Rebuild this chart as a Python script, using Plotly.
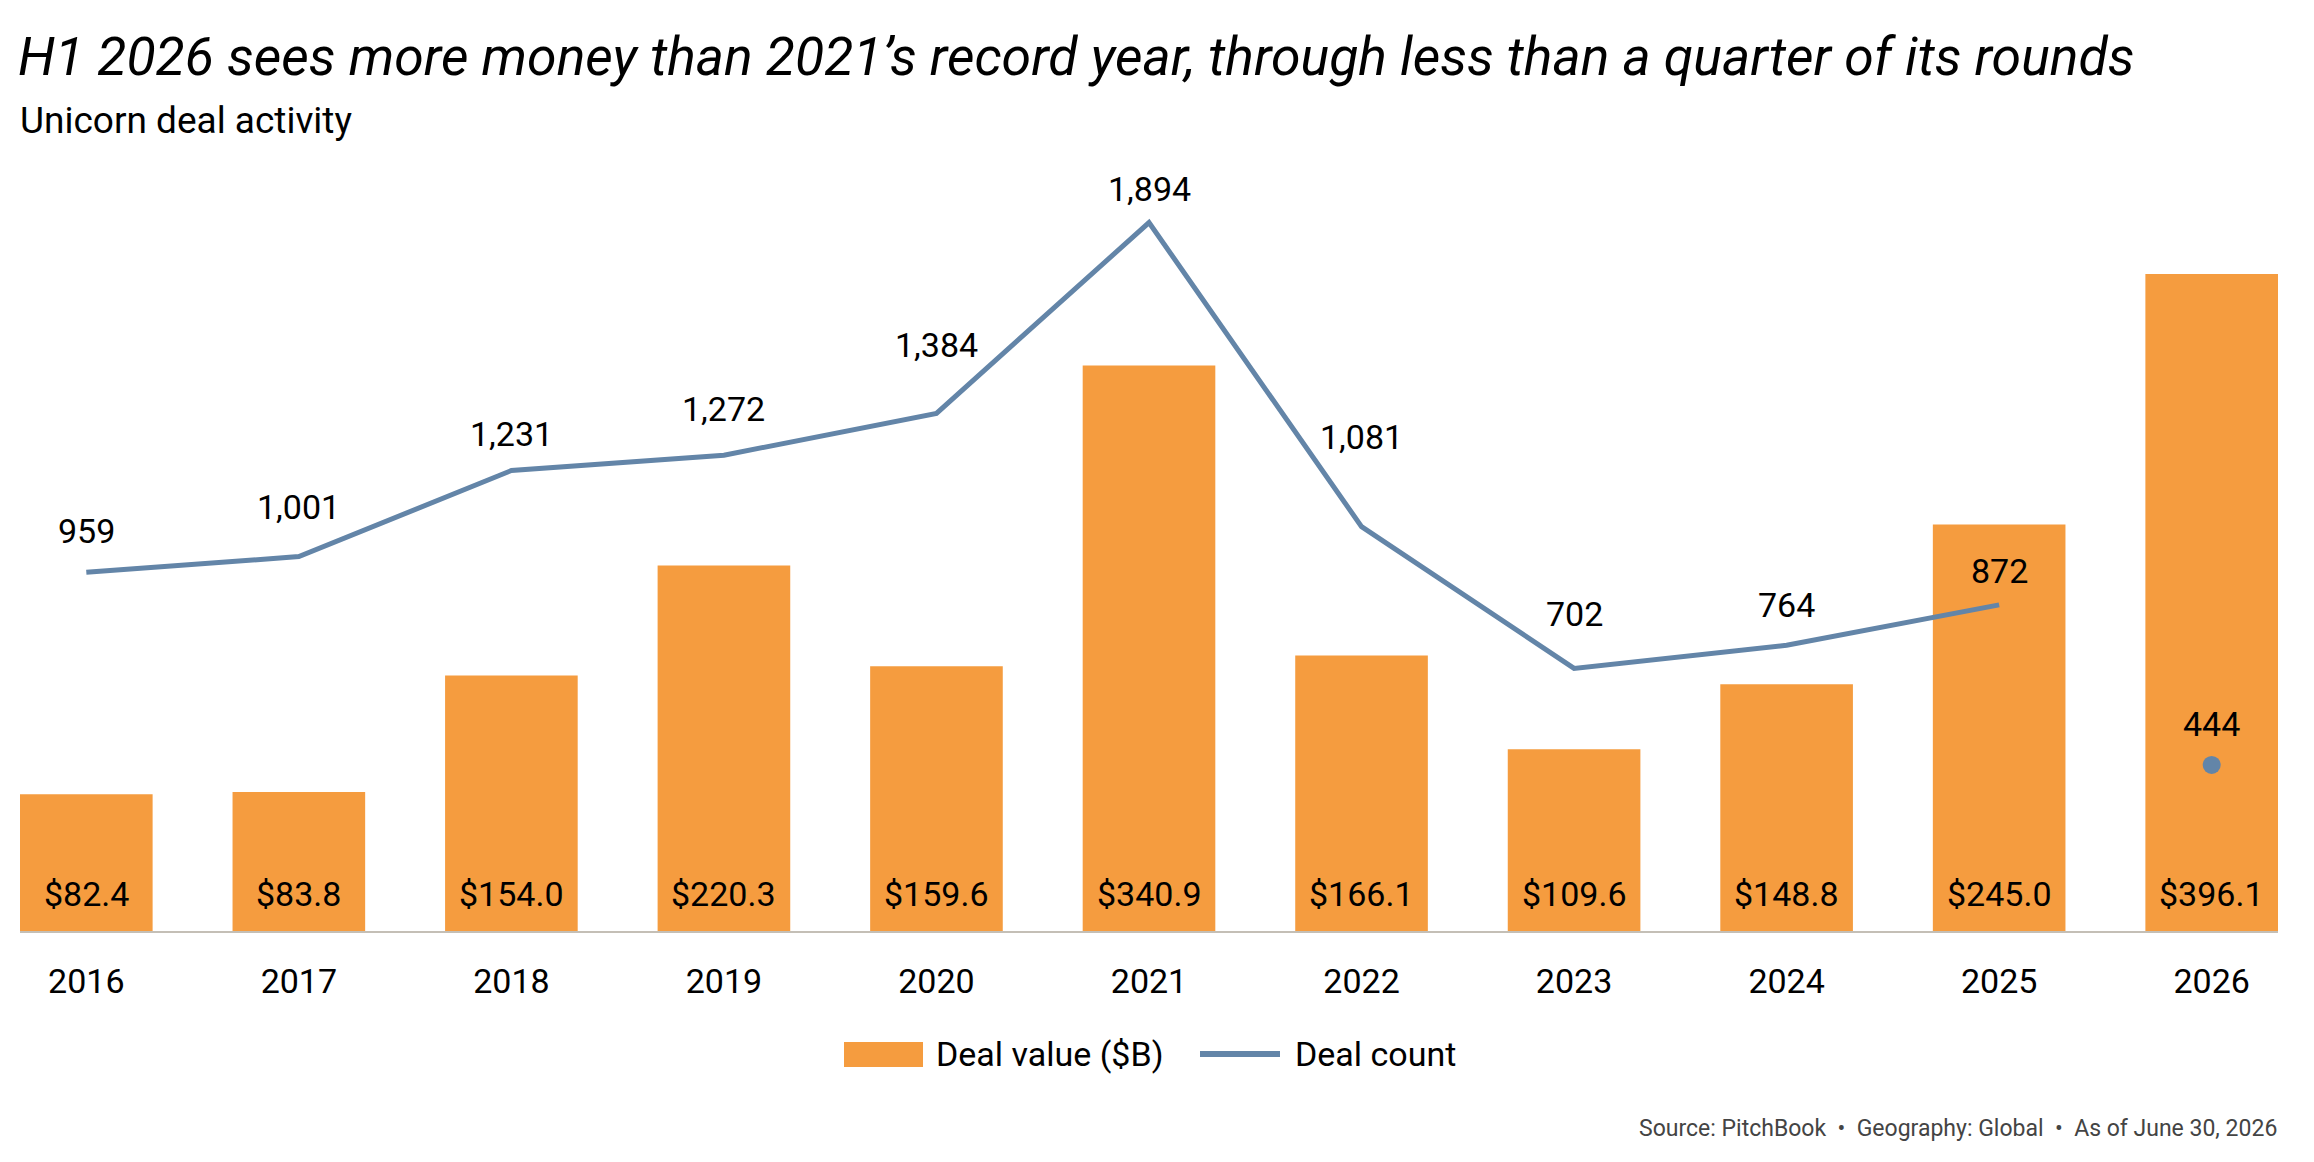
import plotly.graph_objects as go

# data
years = [2016, 2017, 2018, 2019, 2020, 2021, 2022, 2023, 2024, 2025, 2026]
deal_value = [82.4, 83.8, 154.0, 220.3, 159.6, 340.9, 166.1, 109.6, 148.8, 245.0, 396.1]
deal_count = [959, 1001, 1231, 1272, 1384, 1894, 1081, 702, 764, 872, 444]
year_labels = [str(y) for y in years]

# vertical offset (px) of each count label above its point, as placed in the original
count_label_shift = [41, 50, 37, 46, 68, 34, 90, 54, 40, 34, 41]

ORANGE = "#F59C3F"
BLUE = "#6385A8"
FONT = "Roboto"

W, H = 2314, 1162
L, R, T, B = 20, 36, 150, 231
PW, PH = W - L - R, H - T - B


def px_x(px):
    # pixel -> paper x
    return (px - L) / PW


def px_y(py):
    # pixel -> paper y
    return (H - B - py) / PH


fig = go.Figure()

fig.add_trace(go.Bar(
    x=years, y=deal_value, marker_color=ORANGE, marker_line_width=0,
    name="Deal value ($B)", showlegend=False, yaxis="y",
))
# full-year count line (2016-2025), H1 2026 as a lone point
fig.add_trace(go.Scatter(
    x=years[:-1], y=deal_count[:-1], mode="lines",
    line=dict(color=BLUE, width=5), name="Deal count",
    showlegend=False, yaxis="y2",
))
fig.add_trace(go.Scatter(
    x=years[-1:], y=deal_count[-1:], mode="markers",
    marker=dict(color=BLUE, size=18), showlegend=False, yaxis="y2",
))

anns = []
for yr, v in zip(years, deal_value):
    anns.append(dict(x=yr, y=0, xref="x", yref="y", yshift=37, showarrow=False,
                     text=f"${v:.1f}", font=dict(family=FONT, size=34, color="#000")))
for yr, c, sh in zip(years, deal_count, count_label_shift):
    anns.append(dict(x=yr, y=c, xref="x", yref="y2", yshift=sh, showarrow=False,
                     text=f"{c:,}", font=dict(family=FONT, size=34, color="#000")))

# subtitle and source
anns.append(dict(x=px_x(18), y=px_y(120), xref="paper", yref="paper",
                 xanchor="left", yanchor="middle", showarrow=False,
                 text="Unicorn deal activity",
                 font=dict(family=FONT, size=37, color="#000")))
anns.append(dict(x=px_x(2279), y=px_y(1128), xref="paper", yref="paper",
                 xanchor="right", yanchor="middle", showarrow=False,
                 text="Source: PitchBook  •  Geography: Global  •  As of June 30, 2026",
                 font=dict(family=FONT, size=23, color="#444")))

# custom legend
LEG_Y = 1054
anns.append(dict(x=px_x(934), y=px_y(LEG_Y), xref="paper", yref="paper",
                 xanchor="left", yanchor="middle", showarrow=False,
                 text="Deal value ($B)", font=dict(family=FONT, size=34, color="#000")))
anns.append(dict(x=px_x(1293), y=px_y(LEG_Y), xref="paper", yref="paper",
                 xanchor="left", yanchor="middle", showarrow=False,
                 text="Deal count", font=dict(family=FONT, size=34, color="#000")))
shapes = [
    dict(type="rect", xref="paper", yref="paper",
         x0=px_x(844), x1=px_x(923), y0=px_y(LEG_Y + 13), y1=px_y(LEG_Y - 12),
         fillcolor=ORANGE, line_width=0),
    dict(type="line", xref="paper", yref="paper",
         x0=px_x(1200), x1=px_x(1280), y0=px_y(LEG_Y), y1=px_y(LEG_Y),
         line=dict(color=BLUE, width=6)),
]

fig.update_layout(
    width=W, height=H,
    margin=dict(l=L, r=R, t=T, b=B),
    paper_bgcolor="white", plot_bgcolor="white",
    bargap=0.376,
    showlegend=False,
    title=dict(
        text="H1 2026 sees more money than 2021’s record year, through less than a quarter of its rounds",
        x=18 / W, xanchor="left", y=1 - 56 / H, yanchor="middle",
        font=dict(family=FONT, size=53.5, color="#000", style="italic"),
    ),
    xaxis=dict(
        range=[years[0] - 0.312, years[-1] + 0.312],
        tickmode="array", tickvals=years, ticktext=year_labels,
        showgrid=False, zeroline=False,
        showline=True, linecolor="#C4BFB6", linewidth=2,
        ticks="", ticklabelstandoff=19,
        tickfont=dict(family=FONT, size=34, color="#000"),
    ),
    yaxis=dict(range=[0, 470.8], visible=False),
    yaxis2=dict(range=[0, 2088], overlaying="y", visible=False),
    annotations=anns,
    shapes=shapes,
)

# drop the default page margin so the figure sits at the window origin
fig.write_html("out.html", config={"displayModeBar": False},
               post_script="document.body.style.margin='0';")
